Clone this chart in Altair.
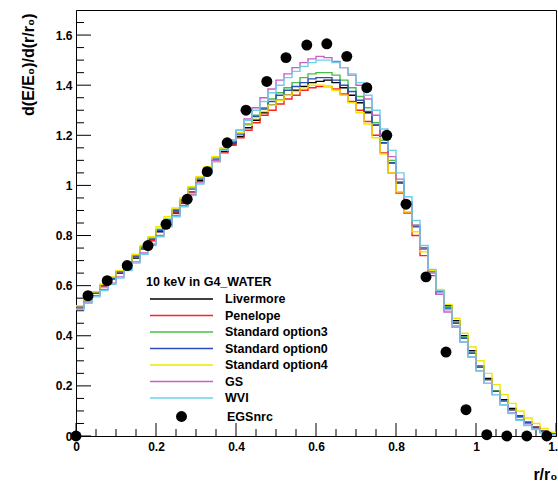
import altair as alt
import pandas as pd

# ---------------- data ----------------
bin_width = 0.02
n_bins = 60

series_names = ["Livermore", "Penelope", "Standard option3", "Standard option0",
                "Standard option4", "GS", "WVI"]
series_colors = ["#000000", "#ff2020", "#44c044", "#2a4fb8", "#f2e600", "#c860c0", "#6ccfea"]

livermore = [0.52, 0.545, 0.57, 0.60, 0.625, 0.65, 0.68, 0.71, 0.745, 0.78,
             0.815, 0.855, 0.89, 0.93, 0.975, 1.02, 1.06, 1.10, 1.135, 1.165,
             1.195, 1.23, 1.26, 1.29, 1.32, 1.34, 1.36, 1.38, 1.395, 1.41,
             1.415, 1.42, 1.41, 1.39, 1.36, 1.33, 1.29, 1.24, 1.17, 1.09,
             1.01, 0.93, 0.84, 0.75, 0.66, 0.58, 0.52, 0.46, 0.40, 0.34,
             0.28, 0.23, 0.18, 0.145, 0.11, 0.08, 0.055, 0.035, 0.02, 0.008]
penelope = [0.515, 0.545, 0.57, 0.595, 0.625, 0.655, 0.68, 0.715, 0.745, 0.78,
            0.82, 0.855, 0.895, 0.935, 0.975, 1.015, 1.055, 1.095, 1.13, 1.16,
            1.19, 1.22, 1.25, 1.28, 1.30, 1.325, 1.345, 1.36, 1.38, 1.39,
            1.395, 1.395, 1.385, 1.365, 1.335, 1.30, 1.255, 1.20, 1.13, 1.05,
            0.97, 0.89, 0.80, 0.72, 0.64, 0.565, 0.505, 0.45, 0.39, 0.33,
            0.275, 0.225, 0.18, 0.14, 0.105, 0.078, 0.054, 0.035, 0.02, 0.008]
std_opt3 = [0.52, 0.55, 0.575, 0.605, 0.63, 0.66, 0.69, 0.72, 0.755, 0.79,
            0.825, 0.865, 0.905, 0.945, 0.99, 1.03, 1.07, 1.11, 1.145, 1.175,
            1.21, 1.245, 1.28, 1.31, 1.345, 1.37, 1.39, 1.41, 1.43, 1.445,
            1.45, 1.45, 1.44, 1.42, 1.39, 1.355, 1.31, 1.25, 1.18, 1.10,
            1.015, 0.93, 0.84, 0.75, 0.66, 0.58, 0.515, 0.455, 0.395, 0.335,
            0.28, 0.225, 0.18, 0.14, 0.105, 0.077, 0.053, 0.033, 0.018, 0.007]
std_opt0 = [0.515, 0.545, 0.57, 0.60, 0.63, 0.655, 0.685, 0.715, 0.75, 0.785,
            0.82, 0.86, 0.90, 0.94, 0.985, 1.025, 1.065, 1.105, 1.14, 1.17,
            1.205, 1.24, 1.275, 1.305, 1.335, 1.36, 1.38, 1.395, 1.41, 1.425,
            1.43, 1.43, 1.42, 1.40, 1.375, 1.34, 1.295, 1.24, 1.17, 1.09,
            1.01, 0.925, 0.835, 0.745, 0.655, 0.575, 0.51, 0.45, 0.39, 0.33,
            0.275, 0.225, 0.178, 0.14, 0.105, 0.077, 0.053, 0.034, 0.019, 0.007]
std_opt4 = [0.52, 0.55, 0.575, 0.605, 0.635, 0.66, 0.69, 0.725, 0.76, 0.795,
            0.835, 0.875, 0.91, 0.95, 0.995, 1.035, 1.075, 1.115, 1.15, 1.18,
            1.21, 1.24, 1.27, 1.295, 1.32, 1.34, 1.36, 1.375, 1.39, 1.40,
            1.40, 1.395, 1.38, 1.36, 1.33, 1.29, 1.245, 1.19, 1.125, 1.05,
            0.975, 0.895, 0.815, 0.735, 0.66, 0.585, 0.525, 0.47, 0.41, 0.355,
            0.30, 0.25, 0.205, 0.165, 0.13, 0.10, 0.072, 0.05, 0.03, 0.015]
gs = [0.51, 0.535, 0.56, 0.585, 0.61, 0.635, 0.665, 0.695, 0.73, 0.765,
      0.80, 0.84, 0.88, 0.92, 0.965, 1.01, 1.055, 1.10, 1.14, 1.18,
      1.22, 1.265, 1.31, 1.35, 1.385, 1.42, 1.445, 1.47, 1.49, 1.505,
      1.515, 1.51, 1.495, 1.47, 1.44, 1.40, 1.345, 1.28, 1.20, 1.115,
      1.025, 0.935, 0.84, 0.745, 0.65, 0.565, 0.495, 0.435, 0.375, 0.315,
      0.26, 0.21, 0.165, 0.125, 0.092, 0.065, 0.043, 0.027, 0.014, 0.005]
wvi = [0.505, 0.53, 0.555, 0.58, 0.605, 0.63, 0.66, 0.69, 0.725, 0.76,
       0.795, 0.835, 0.875, 0.915, 0.96, 1.005, 1.05, 1.095, 1.14, 1.18,
       1.22, 1.26, 1.30, 1.335, 1.37, 1.40, 1.43, 1.455, 1.475, 1.49,
       1.50, 1.50, 1.49, 1.47, 1.445, 1.41, 1.36, 1.30, 1.225, 1.14,
       1.05, 0.955, 0.86, 0.76, 0.665, 0.58, 0.505, 0.44, 0.375, 0.315,
       0.26, 0.21, 0.165, 0.125, 0.09, 0.063, 0.042, 0.026, 0.013, 0.005]

egs_r = [0.0, 0.03, 0.078, 0.128, 0.18, 0.225, 0.278, 0.328, 0.378, 0.425,
         0.477, 0.525, 0.577, 0.627, 0.677, 0.727, 0.777, 0.825, 0.875, 0.925,
         0.975, 1.027, 1.077, 1.127, 1.177]
egs_v = [0.0, 0.56, 0.62, 0.68, 0.76, 0.845, 0.945, 1.055, 1.17, 1.30,
         1.415, 1.51, 1.56, 1.565, 1.515, 1.39, 1.20, 0.925, 0.635, 0.335,
         0.105, 0.005, 0.0, 0.0, 0.0]

x_tick_labels = [0, 0.2, 0.4, 0.6, 0.8, 1, 1.2]
y_tick_labels = [0, 0.2, 0.4, 0.6, 0.8, 1, 1.2, 1.4, 1.6]
x_minor = [0.05, 0.1, 0.15, 0.25, 0.3, 0.35, 0.45, 0.5, 0.55, 0.65, 0.7, 0.75,
           0.85, 0.9, 0.95, 1.05, 1.1, 1.15]
y_minor = [0.05, 0.1, 0.15, 0.25, 0.3, 0.35, 0.45, 0.5, 0.55, 0.65, 0.7, 0.75,
           0.85, 0.9, 0.95, 1.05, 1.1, 1.15, 1.25, 1.3, 1.35, 1.45, 1.5, 1.55, 1.65]

# ---------------- tables ----------------
all_vals = [livermore, penelope, std_opt3, std_opt0, std_opt4, gs, wvi]
rows = []
for name, vals in zip(series_names, all_vals):
    for i, v in enumerate(vals):
        rows.append({"series": name, "r": round(i * bin_width, 4), "v": v})
    rows.append({"series": name, "r": round(n_bins * bin_width, 4), "v": vals[-1]})
hist_df = pd.DataFrame(rows)

egs_df = pd.DataFrame({"r": egs_r, "v": egs_v, "src": ["EGSnrc"] * len(egs_r)})

FONT = "Liberation Sans"
W, H = 480, 426

xscale = alt.Scale(domain=[0, 1.2], nice=False, zero=False)
yscale = alt.Scale(domain=[0, 1.7], nice=False, zero=False)

xaxis = alt.Axis(values=x_tick_labels, format="~g", grid=False, ticks=False,
                 domainColor="black", domainWidth=1,
                 labelFont=FONT, labelFontSize=12, labelFontWeight="bold",
                 labelColor="black", labelPadding=5, labelFlush=False,
                 labelOverlap=False,
                 title="r/r\u2080", titleFont=FONT, titleFontSize=16,
                 titleFontWeight="bold", titleColor="black",
                 titleAnchor="end", titleAlign="right", titleBaseline="alphabetic",
                 titleX=481, titleY=43)
yaxis = alt.Axis(values=y_tick_labels, format="~g", grid=False, ticks=False,
                 domainColor="black", domainWidth=1,
                 labelFont=FONT, labelFontSize=12, labelFontWeight="bold",
                 labelColor="black", labelPadding=4, labelFlush=False,
                 labelOverlap=False,
                 title="d(E/E\u2080)/d(r/r\u2080)", titleFont=FONT, titleFontSize=16,
                 titleFontWeight="bold", titleColor="black",
                 titleAngle=270, titleAlign="right", titleBaseline="alphabetic",
                 titleX=-43, titleY=3)


def X(f):
    return alt.X(f"{f}:Q", scale=xscale, axis=xaxis)


def Y(f):
    return alt.Y(f"{f}:Q", scale=yscale, axis=yaxis)


lines = alt.Chart(hist_df).mark_line(interpolate="step-after", strokeWidth=1.4).encode(
    x=X("r"),
    y=Y("v"),
    color=alt.Color(
        "series:N",
        scale=alt.Scale(domain=series_names, range=series_colors),
        sort=series_names,
        legend=alt.Legend(
            title="10 keV in G4_WATER", orient="none", legendX=70, legendY=266,
            symbolType="M-4.2,0H4.2", symbolSize=225, symbolStrokeWidth=1.5,
            symbolOffset=27, labelOffset=35, rowPadding=1.5, padding=0,
            titlePadding=2, labelLimit=300,
            titleFont=FONT, titleFontSize=12.5, titleFontWeight="bold",
            titleColor="black",
            labelFont=FONT, labelFontSize=12.5, labelFontWeight="bold",
            labelColor="black",
        ),
    ),
)

points = alt.Chart(egs_df).mark_point(filled=True, size=120, color="black", opacity=1).encode(
    x=X("r"),
    y=Y("v"),
    shape=alt.Shape(
        "src:N",
        scale=alt.Scale(domain=["EGSnrc"], range=["circle"]),
        legend=alt.Legend(
            title=None, orient="none", legendX=70, legendY=400,
            symbolSize=120, symbolFillColor="black", symbolStrokeColor="black",
            symbolOpacity=1, symbolOffset=29, labelOffset=39, padding=0,
            labelFont=FONT, labelFontSize=12.5, labelFontWeight="bold",
            labelColor="black",
        ),
    ),
)

y_major_ticks = alt.Chart(pd.DataFrame({"t": y_tick_labels})).mark_rule(
    color="black", strokeWidth=1).encode(y=Y("t"), x=alt.value(0), x2=alt.value(15))
y_minor_ticks = alt.Chart(pd.DataFrame({"t": y_minor})).mark_rule(
    color="black", strokeWidth=1).encode(y=Y("t"), x=alt.value(0), x2=alt.value(8))
x_major_ticks = alt.Chart(pd.DataFrame({"t": x_tick_labels})).mark_rule(
    color="black", strokeWidth=1).encode(x=X("t"), y=alt.value(H), y2=alt.value(H - 13))
x_minor_ticks = alt.Chart(pd.DataFrame({"t": x_minor})).mark_rule(
    color="black", strokeWidth=1).encode(x=X("t"), y=alt.value(H), y2=alt.value(H - 7))

chart = alt.layer(
    y_major_ticks, y_minor_ticks, x_major_ticks, x_minor_ticks, lines, points
).resolve_scale(color="independent", shape="independent").properties(
    width=W, height=H,
    padding={"left": 76, "top": 10, "right": 2, "bottom": 52},
    autosize=alt.AutoSizeParams(type="none"),
    background="white",
).configure_view(stroke="black", strokeWidth=1)

chart.save("out.html", embed_options={"renderer": "svg", "actions": False})
